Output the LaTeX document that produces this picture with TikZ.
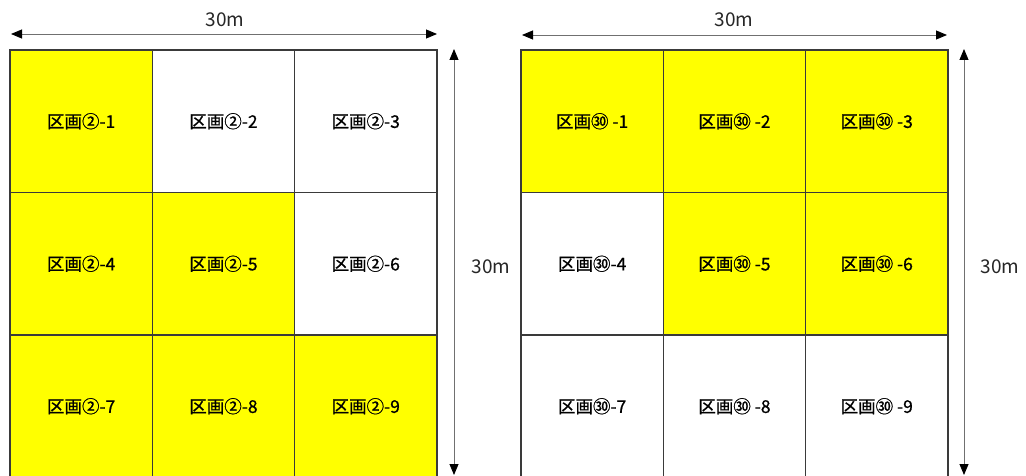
\documentclass[tikz,border=0pt]{standalone}
\usepackage{fontspec}
\setmainfont{Noto Sans CJK JP}
\newfontfamily\labelfont{Noto Sans CJK JP}[FakeBold=0.8]
\usetikzlibrary{arrows.meta}
\definecolor{cellyellow}{HTML}{FFFF00}
\definecolor{gridc}{HTML}{3A3A3A}
\definecolor{dimc}{HTML}{707070}
\begin{document}
\begin{tikzpicture}[x=1pt,y=-1pt,
  cell/.style={draw=gridc, line width=1.3pt, minimum width=142.3pt, minimum height=142.5pt,
    inner sep=0pt, outer sep=0pt, anchor=north west, font=\labelfont\fontsize{17.5}{19}\selectfont},
  yel/.style={cell, fill=cellyellow},
  wht/.style={cell, fill=white},
  dimline/.style={draw=dimc, line width=0.9pt, {Triangle[length=11pt,width=9pt,fill=black,color=black]}-{Triangle[length=11pt,width=9pt,fill=black,color=black]}},
  dimtext/.style={font=\fontsize{19}{21}\selectfont, text=black!85, inner sep=0pt}]
\useasboundingbox (0,0) rectangle (1026,476);
\clip (0,0) rectangle (1026,476);
\fill[white] (0,0) rectangle (1026,476);
% left grid
\node[yel] (a1) at (10,50) {区画②-1};
\node[wht] (a2) at (152.3,50) {区画②-2};
\node[wht] (a3) at (294.6,50) {区画②-3};
\node[yel] (a4) at (10,192.5) {区画②-4};
\node[yel] (a5) at (152.3,192.5) {区画②-5};
\node[wht] (a6) at (294.6,192.5) {区画②-6};
\node[yel] (a7) at (10,335) {区画②-7};
\node[yel] (a8) at (152.3,335) {区画②-8};
\node[yel] (a9) at (294.6,335) {区画②-9};
% right grid
\node[yel] (b1) at (521,50) {区画㉚ -1};
\node[yel] (b2) at (663.3,50) {区画㉚ -2};
\node[yel] (b3) at (805.6,50) {区画㉚ -3};
\node[wht] (b4) at (521,192.5) {区画㉚-4};
\node[yel] (b5) at (663.3,192.5) {区画㉚ -5};
\node[yel] (b6) at (805.6,192.5) {区画㉚ -6};
\node[wht] (b7) at (521,335) {区画㉚-7};
\node[wht] (b8) at (663.3,335) {区画㉚ -8};
\node[wht] (b9) at (805.6,335) {区画㉚ -9};
% dimension arrows
\coordinate (hl1) at (11,34);
\coordinate (hl2) at (437,34);
\coordinate (hr1) at (522,35);
\coordinate (hr2) at (947,35);
\coordinate (vl1) at (454,49);
\coordinate (vl2) at (454,475);
\coordinate (vr1) at (964,49);
\coordinate (vr2) at (964,475);
\draw[dimline] (hl1) -- (hl2);
\draw[dimline] (hr1) -- (hr2);
\draw[dimline] (vl1) -- (vl2);
\draw[dimline] (vr1) -- (vr2);
\node[dimtext] (tl) at (225,20) {30m};
\node[dimtext] (tr) at (734,20) {30m};
\node[dimtext] (tvl) at (491,267) {30m};
\node[dimtext] (tvr) at (1000,267) {30m};
\end{tikzpicture}
\end{document}
